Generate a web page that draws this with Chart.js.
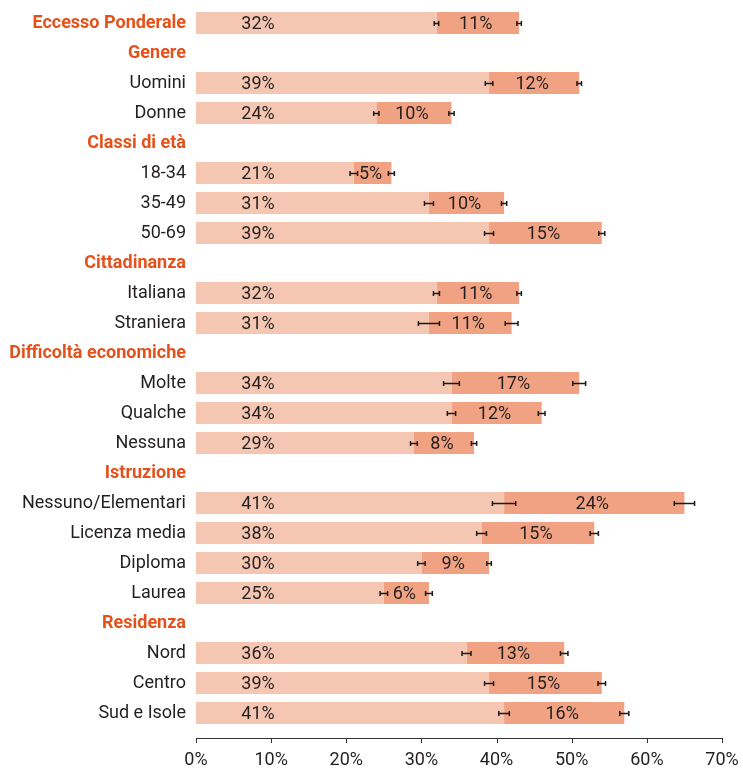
<!DOCTYPE html>
<html lang="it">
<head>
<meta charset="utf-8">
<title>Eccesso ponderale</title>
<script src="https://cdn.jsdelivr.net/npm/chart.js@4"></script>
<style>
  html, body { margin: 0; padding: 0; background: #fff; }
  #chart { display: block; }
</style>
</head>
<body>
<canvas id="chart" width="743" height="771"></canvas>
<script>
// righe del grafico (le intestazioni di sezione non hanno barre, tranne il totale)
const categories = [
    'Eccesso Ponderale', 'Genere', 'Uomini', 'Donne',
    'Classi di età', '18-34', '35-49', '50-69',
    'Cittadinanza', 'Italiana', 'Straniera',
    'Difficoltà economiche', 'Molte', 'Qualche', 'Nessuna',
    'Istruzione', 'Nessuno/Elementari', 'Licenza media', 'Diploma', 'Laurea',
    'Residenza', 'Nord', 'Centro', 'Sud e Isole'
];
const sectionHeaders = ['Eccesso Ponderale', 'Genere', 'Classi di età', 'Cittadinanza',
    'Difficoltà economiche', 'Istruzione', 'Residenza'];

// sovrappeso e obesi (%)
const sovrappeso = [32, null, 39, 24, null, 21, 31, 39, null, 32, 31, null, 34, 34, 29, null, 41, 38, 30, 25, null, 36, 39, 41];
const obesi      = [11, null, 12, 10, null, 5, 10, 15, null, 11, 11, null, 17, 12, 8, null, 24, 15, 9, 6, null, 13, 15, 16];

// semiampiezza degli intervalli di confidenza (punti percentuali)
const icSovrappeso = [0.3, null, 0.5, 0.35, null, 0.5, 0.6, 0.6, null, 0.4, 1.4, null, 1.05, 0.55, 0.45, null, 1.55, 0.65, 0.5, 0.5, null, 0.6, 0.6, 0.7];
const icObesi      = [0.3, null, 0.3, 0.35, null, 0.4, 0.35, 0.4, null, 0.3, 0.85, null, 0.85, 0.45, 0.35, null, 1.35, 0.55, 0.3, 0.45, null, 0.5, 0.5, 0.6];

const xTicks = [0, 10, 20, 30, 40, 50, 60, 70];

const FONT = 'Roboto, "DejaVu Sans", sans-serif';
const SIZE = 18;
const TEXT = '#231f20';
const ORANGE = '#e4511b';

// asse x disegnato un po' sotto l'area delle barre
const axisLine = {
    id: 'axisLine',
    afterDraw(chart) {
        const { ctx, chartArea, scales: { x } } = chart;
        const y = chartArea.bottom + 10;
        ctx.save();
        ctx.strokeStyle = '#333';
        ctx.lineWidth = 1;
        ctx.beginPath();
        ctx.moveTo(x.getPixelForValue(xTicks[0]), y + 0.5);
        ctx.lineTo(x.getPixelForValue(xTicks[xTicks.length - 1]), y + 0.5);
        xTicks.forEach(t => {
            const px = Math.round(x.getPixelForValue(t)) + 0.5;
            ctx.moveTo(px, y);
            ctx.lineTo(px, y + 5);
        });
        ctx.stroke();
        ctx.restore();
    }
};

// barre di errore alla fine di ogni segmento
const errorBars = {
    id: 'errorBars',
    afterDatasetsDraw(chart) {
        const { ctx, scales: { x, y } } = chart;
        ctx.save();
        ctx.strokeStyle = '#1a1a1a';
        ctx.lineWidth = 1.5;
        categories.forEach((c, i) => {
            if (sovrappeso[i] == null) return;
            const cy = Math.round(y.getPixelForValue(i)) + 0.5;
            const ends = [
                [sovrappeso[i], icSovrappeso[i]],
                [sovrappeso[i] + obesi[i], icObesi[i]]
            ];
            ends.forEach(([v, e]) => {
                const x1 = x.getPixelForValue(v - e);
                const x2 = x.getPixelForValue(v + e);
                ctx.beginPath();
                ctx.moveTo(x1, cy);
                ctx.lineTo(x2, cy);
                ctx.moveTo(x1, cy - 2.5);
                ctx.lineTo(x1, cy + 2.5);
                ctx.moveTo(x2, cy - 2.5);
                ctx.lineTo(x2, cy + 2.5);
                ctx.stroke();
            });
        });
        ctx.restore();
    }
};

// etichette percentuali dentro le barre
const valueLabels = {
    id: 'valueLabels',
    afterDraw(chart) {
        const { ctx, scales: { x, y } } = chart;
        ctx.save();
        ctx.font = SIZE + 'px ' + FONT;
        ctx.fillStyle = TEXT;
        ctx.textAlign = 'center';
        ctx.textBaseline = 'middle';
        categories.forEach((c, i) => {
            if (sovrappeso[i] == null) return;
            const cy = y.getPixelForValue(i) + 1;
            ctx.fillText(sovrappeso[i] + '%', x.getPixelForValue(0) + 62, cy);
            const mid = x.getPixelForValue(sovrappeso[i] + obesi[i] / 2);
            ctx.fillText(obesi[i] + '%', mid - 2, cy);
        });
        ctx.restore();
    }
};

new Chart(document.getElementById('chart'), {
    type: 'bar',
    data: {
        labels: categories,
        datasets: [
            {
                label: 'Sovrappeso',
                data: sovrappeso,
                backgroundColor: '#f5c7b2',
                borderWidth: 0
            },
            {
                label: 'Obesi',
                data: obesi,
                backgroundColor: '#f0a283',
                borderWidth: 0
            }
        ]
    },
    options: {
        indexAxis: 'y',
        responsive: false,
        animation: false,
        devicePixelRatio: 1,
        layout: { padding: { top: 8, right: 21, left: 0, bottom: 0 } },
        datasets: {
            bar: { barPercentage: 0.74, categoryPercentage: 1 }
        },
        plugins: {
            legend: { display: false },
            tooltip: { enabled: false }
        },
        scales: {
            x: {
                stacked: true,
                min: 0,
                max: 70,
                grid: { display: false, drawTicks: false },
                border: { display: false },
                afterFit(scale) {
                    scale.height = 43;
                    scale.paddingLeft = 0;
                    scale.paddingRight = 0;
                },
                afterBuildTicks(scale) { scale.ticks = xTicks.map(v => ({ value: v })); },
                ticks: {
                    padding: 22,
                    maxRotation: 0,
                    color: TEXT,
                    font: { family: FONT, size: SIZE },
                    callback: v => v + '%'
                }
            },
            y: {
                stacked: true,
                grid: { display: false, drawTicks: false },
                border: { display: false },
                afterFit(scale) {
                    scale.width = 196;
                    scale.paddingTop = 0;
                    scale.paddingBottom = 0;
                },
                ticks: {
                    padding: 10,
                    autoSkip: false,
                    color: ctx => sectionHeaders.includes(categories[ctx.index]) ? ORANGE : TEXT,
                    font: ctx => sectionHeaders.includes(categories[ctx.index])
                        ? { family: FONT, size: SIZE, weight: 'bold' }
                        : { family: FONT, size: SIZE }
                }
            }
        }
    },
    plugins: [axisLine, errorBars, valueLabels]
});
</script>
</body>
</html>
